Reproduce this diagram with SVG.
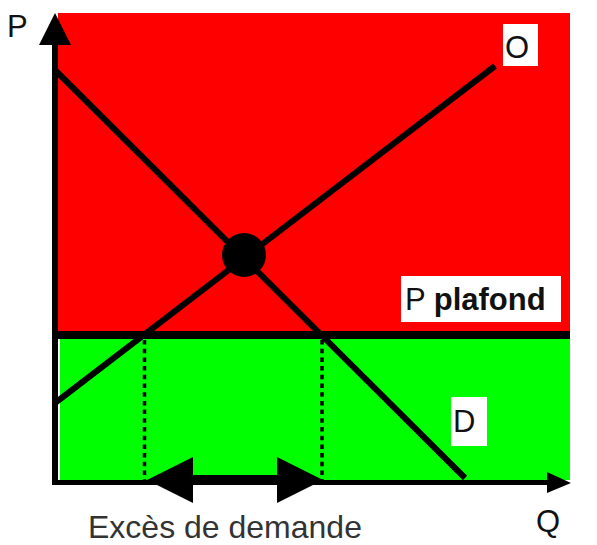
<svg xmlns="http://www.w3.org/2000/svg" width="597" height="545" viewBox="0 0 597 545">
  <style>
    .lbl { font-family: "Liberation Sans", Arial, sans-serif; font-size: 31px; fill: #111; }
    .curve { stroke: #000; stroke-width: 6; fill: none; }
    .dot { stroke: #000; stroke-width: 3.5; stroke-dasharray: 4.5 4.2; fill: none; }
    .box { fill: #fff; }
  </style>
  <rect width="597" height="545" fill="#fff"/>
  <g id="zones">
    <rect id="red-zone" x="58" y="13" width="512" height="320" fill="#ff0000"/>
    <rect id="green-zone" x="60" y="337" width="510" height="143" fill="#00ff00"/>
  </g>
  <g id="axes">
    <line x1="55" y1="40" x2="55" y2="485" stroke="#000" stroke-width="6"/>
    <polygon points="55,13 71,45 39,45" fill="#000"/>
    <line x1="52" y1="482.5" x2="550" y2="482.5" stroke="#000" stroke-width="5"/>
    <polygon points="571,483 547,472 547,493" fill="#000"/>
    <text class="lbl" x="7" y="37">P</text>
    <text class="lbl" x="536" y="532">Q</text>
  </g>
  <g id="connectors">
    <line id="demand" class="curve" x1="55" y1="70" x2="465" y2="478"/>
    <line id="offer" class="curve" x1="55" y1="403" x2="495" y2="66"/>
    <line id="ceiling" x1="55" y1="335" x2="570" y2="335" stroke="#000" stroke-width="8"/>
    <line class="dot" x1="144.5" y1="340" x2="144.5" y2="480"/>
    <line class="dot" x1="322" y1="340" x2="322" y2="480"/>
    <line x1="185" y1="480" x2="285" y2="480" stroke="#000" stroke-width="10"/>
    <polygon points="147,480 193,457 193,503" fill="#000"/>
    <polygon points="323,480 277,457 277,503" fill="#000"/>
  </g>
  <g id="equilibrium">
    <circle cx="244" cy="255" r="22" fill="#000"/>
  </g>
  <g id="label-O">
    <rect class="box" x="503" y="24" width="35" height="42"/>
    <text class="lbl" x="505" y="58">O</text>
  </g>
  <g id="label-D">
    <rect class="box" x="451" y="397" width="36" height="49"/>
    <text class="lbl" x="453" y="432">D</text>
  </g>
  <g id="label-plafond">
    <rect class="box" x="401" y="276" width="160" height="46"/>
    <text class="lbl" x="405" y="310">P <tspan font-weight="bold">plafond</tspan></text>
  </g>
  <g id="label-excess">
    <text class="lbl" x="88" y="538" style="fill:#333;font-size:32px">Excès de demande</text>
  </g>
</svg>
